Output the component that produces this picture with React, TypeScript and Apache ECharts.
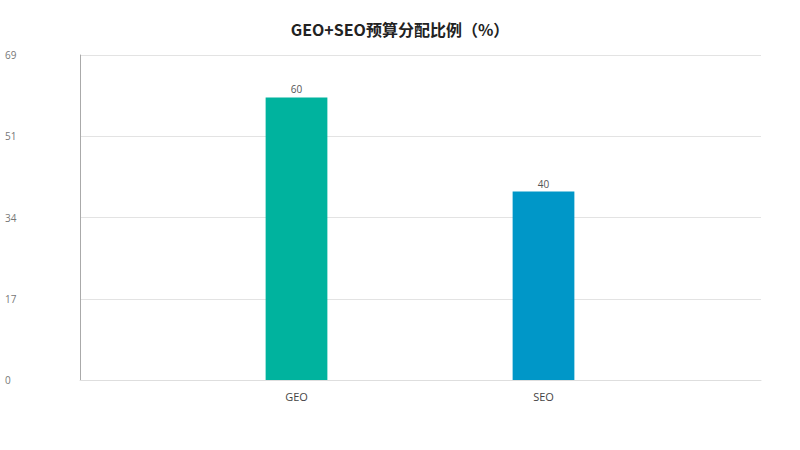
import React, { useEffect, useRef } from 'react';
import * as echarts from 'echarts';

const categories = ['GEO', 'SEO'];
const budgetShare = [60, 40];
const barColors = ['#00b39e', '#0097c8'];
const yMax = 69;
const yStep = 17.25;

const App: React.FC = () => {
  const chartRef = useRef<HTMLDivElement>(null);

  useEffect(() => {
    if (!chartRef.current) return;
    const chart = echarts.init(chartRef.current, null, { renderer: 'svg' });

    chart.setOption({
      animation: false,
      backgroundColor: '#fff',
      textStyle: { fontFamily: '"Open Sans", "Noto Sans", sans-serif' },
      title: {
        text: 'GEO+SEO预算分配比例（%）',
        left: 'center',
        top: 16,
        textStyle: {
          fontFamily: '"Noto Sans CJK SC", sans-serif',
          fontSize: 16,
          fontWeight: 'bold',
          color: '#222',
        },
      },
      // outer grid carries the axis frame and gridlines, inner one the bars
      grid: [
        { left: 80, right: 39, top: 55, bottom: 70 },
        { left: 173, right: 133, top: 55, bottom: 70 },
      ],
      xAxis: [
        {
          gridIndex: 0,
          type: 'category',
          data: categories,
          axisLine: { show: true, lineStyle: { color: '#dedede' } },
          axisTick: { show: false },
          axisLabel: { show: false },
        },
        {
          gridIndex: 1,
          type: 'category',
          data: categories,
          axisLine: { show: false },
          axisTick: { show: false },
          axisLabel: { color: '#444', fontSize: 11, margin: 11 },
        },
      ],
      yAxis: [
        {
          gridIndex: 0,
          type: 'value',
          min: 0,
          max: yMax,
          interval: yStep,
          axisLine: { show: true, lineStyle: { color: '#aaa' } },
          axisTick: { show: false },
          splitLine: { lineStyle: { color: '#e3e3e3' } },
          axisLabel: {
            color: '#777777',
            fontSize: 10,
            align: 'left',
            margin: 75,
            padding: [3, 0, 0, 0],
            formatter: (v: number) => String(Math.floor(v)),
          },
        },
        {
          gridIndex: 1,
          type: 'value',
          min: 0,
          max: yMax,
          show: false,
        },
      ],
      series: [
        {
          type: 'bar',
          xAxisIndex: 1,
          yAxisIndex: 1,
          barWidth: '25%',
          data: budgetShare.map((v, i) => ({ value: v, itemStyle: { color: barColors[i] } })),
          label: { show: true, position: 'top', distance: 3, color: '#555', fontSize: 10 },
        },
      ],
    });

    return () => chart.dispose();
  }, []);

  return (
    <div
      ref={chartRef}
      style={{ position: 'fixed', left: 0, top: 0, width: 800, height: 450 }}
    />
  );
};

export default App;
